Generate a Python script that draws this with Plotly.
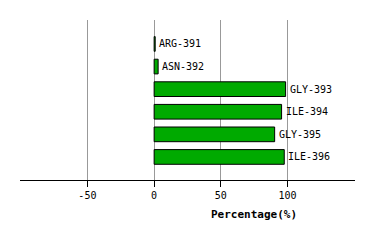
import plotly.graph_objects as go

residues = ["ARG-391", "ASN-392", "GLY-393", "ILE-394", "GLY-395", "ILE-396"]
percentages = [0.8, 3.0, 98.5, 95.5, 90.3, 97.5]
tick_vals = [-50, 0, 50, 100]
tick_text = ["-50", "0", "50", "100"]

ypos = list(range(len(residues)))

fig = go.Figure()
fig.add_trace(go.Bar(
    x=percentages, y=ypos, orientation="h",
    width=0.65,
    marker=dict(color="#00AA00", line=dict(color="black", width=1)),
    hoverinfo="skip",
))

for r, v, y in zip(residues, percentages, ypos):
    fig.add_annotation(x=v, y=y, xref="x", yref="y", text=r, showarrow=False,
                       xanchor="left", yanchor="middle", xshift=2,
                       font=dict(family="DejaVu Sans Mono", size=10, color="black"))

fig.add_annotation(xref="paper", yref="paper",
                   x=(254 - 20) / 335, y=-(214 - 180) / 160,
                   xanchor="center", yanchor="middle",
                   text="<b>Percentage(%)</b>", showarrow=False,
                   font=dict(family="DejaVu Sans Mono", size=11, color="black"))

fig.update_layout(
    width=374, height=240,
    margin=dict(l=20, r=19, t=20, b=60),
    paper_bgcolor="white", plot_bgcolor="white",
    showlegend=False,
    xaxis=dict(range=[-100.5, 150.5], tickvals=tick_vals, ticktext=tick_text,
               showgrid=True, gridcolor="#999999", gridwidth=1, zeroline=False,
               showline=True, linecolor="black", linewidth=1,
               ticks="outside", ticklen=6, tickcolor="black",
               tickfont=dict(family="DejaVu Sans Mono", size=10, color="black"),
               fixedrange=True),
    yaxis=dict(range=[6.02, -1.06], showticklabels=False, showgrid=False, zeroline=False,
               showline=False, ticks="", fixedrange=True),
)

fig.write_html("out.html")
